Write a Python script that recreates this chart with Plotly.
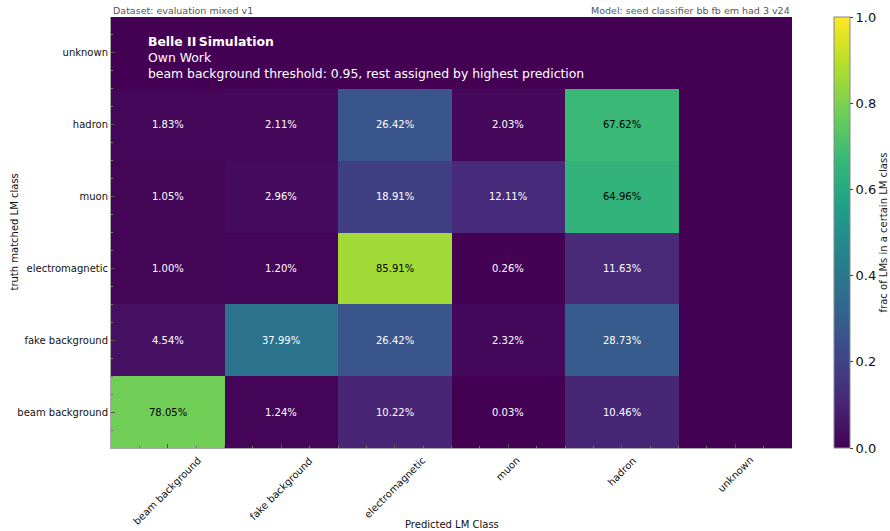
import plotly.graph_objects as go

# class labels (bottom-to-top for rows, left-to-right for columns)
classes = ["beam background", "fake background", "electromagnetic", "muon", "hadron", "unknown"]

# row-normalised confusion matrix in percent: truth class -> predicted class
row_beam_bg = [78.05, 1.24, 10.22, 0.03, 10.46, 0.0]
row_fake_bg = [4.54, 37.99, 26.42, 2.32, 28.73, 0.0]
row_em = [1.00, 1.20, 85.91, 0.26, 11.63, 0.0]
row_muon = [1.05, 2.96, 18.91, 12.11, 64.96, 0.0]
row_hadron = [1.83, 2.11, 26.42, 2.03, 67.62, 0.0]
row_unknown = [0.0, 0.0, 0.0, 0.0, 0.0, 0.0]

rows = [row_beam_bg, row_fake_bg, row_em, row_muon, row_hadron, row_unknown]
z = [[v / 100.0 for v in r] for r in rows]
idx = list(range(len(classes)))

FONT = "DejaVu Sans"

# figure geometry (pixels)
W, H = 890, 531
ML, MR, MT, MB = 111, 10, 17, 83
PW = W - ML - MR
PH = H - MT - MB
PLOT_W = 681  # heatmap width inside the paper area
dom_end = PLOT_W / PW


def px_x(p):
    return (p - ML) / PW


def px_y(p):
    return (H - MB - p) / PH


fig = go.Figure(
    go.Heatmap(
        z=z, x=idx, y=idx,
        colorscale="Viridis", zmin=0, zmax=1,
        colorbar=dict(
            x=px_x(834), xanchor="left", xpad=0, y=0.5, yanchor="middle", ypad=0,
            len=1.0, lenmode="fraction", thickness=16,
            outlinecolor="#888888", outlinewidth=1,
            tickvals=[0, 0.2, 0.4, 0.6, 0.8, 1.0],
            ticktext=["0.0", "0.2", "0.4", "0.6", "0.8", "1.0"],
            ticks="outside", ticklen=3, tickcolor="#333333",
            tickfont=dict(family=FONT, size=13, color="#111111"),
            title=dict(text="frac of LMs in a certain LM class", side="right",
                       font=dict(family=FONT, size=10, color="#222222")),
        ),
        hoverinfo="skip",
    )
)

annotations = []
for yi, r in enumerate(rows):
    for xi, v in enumerate(r):
        if classes[xi] == "unknown" or classes[yi] == "unknown":
            continue
        annotations.append(dict(
            x=xi, y=yi, xref="x", yref="y", text=f"{v:.2f}%", showarrow=False,
            font=dict(family=FONT, size=10, color="black" if v > 50 else "white"),
        ))

# rotated predicted-class labels, centred under each column
for xi, name in enumerate(classes):
    annotations.append(dict(
        x=xi, y=px_y(452), xref="x", yref="paper", xanchor="center", yanchor="top",
        textangle=-45, text=name, showarrow=False,
        font=dict(family=FONT, size=10, color="#111111"),
    ))

annotations += [
    dict(x=0, y=1.0, xref="paper", yref="paper", xanchor="left", yanchor="bottom",
         yshift=-1, text="Dataset: evaluation mixed v1", showarrow=False,
         font=dict(family=FONT, size=9.5, color="#555555")),
    dict(x=dom_end, y=1.0, xref="paper", yref="paper", xanchor="right", yanchor="bottom",
         yshift=-1, text="Model: seed classifier bb fb em had 3 v24", showarrow=False,
         font=dict(family=FONT, size=9.5, color="#555555")),
    dict(x=px_x(146), y=px_y(57.5), xref="paper", yref="paper", xanchor="left",
         yanchor="middle", align="left", showarrow=False,
         text="<b>Belle II</b>\u2009<b>Simulation</b><br>Own Work<br>"
              "beam background threshold: 0.95, rest assigned by highest prediction",
         font=dict(family=FONT, size=12.4, color="white")),
    dict(x=px_x(14), y=0.5, xref="paper", yref="paper", xanchor="center",
         yanchor="middle", textangle=-90, showarrow=False,
         text="truth matched LM class",
         font=dict(family=FONT, size=10, color="#111111")),
    dict(x=dom_end / 2, y=px_y(524), xref="paper", yref="paper", xanchor="center",
         yanchor="middle", showarrow=False, text="Predicted LM Class",
         font=dict(family=FONT, size=10, color="#111111")),
]

axis_common = dict(
    range=[-0.5, 5.5], tickvals=idx, automargin=False,
    showgrid=False, zeroline=False, showline=True, linecolor="#aaaaaa", linewidth=1,
    ticks="inside", ticklen=4, tickcolor="#555555",
    minor=dict(ticks="inside", ticklen=2, tickcolor="#777777", dtick=0.25, tick0=-0.5),
    tickfont=dict(family=FONT, size=10, color="#111111"),
)

fig.update_layout(
    width=W, height=H,
    margin=dict(l=ML, r=MR, t=MT, b=MB, autoexpand=False),
    paper_bgcolor="white", plot_bgcolor="white",
    font=dict(family=FONT),
    xaxis=dict(**axis_common, showticklabels=False, domain=[0, dom_end]),
    yaxis=dict(**axis_common, ticktext=classes, domain=[0, 1]),
    annotations=annotations,
)

fig.write_html("out.html")
